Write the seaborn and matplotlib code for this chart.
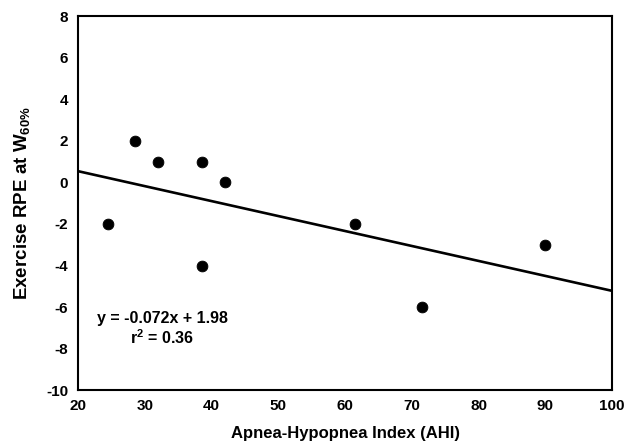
import numpy as np
import pandas as pd
import matplotlib
matplotlib.use("Agg")
import matplotlib.pyplot as plt
import seaborn as sns

# data
ahi = [24.5, 28.5, 32.0, 38.5, 38.5, 42.0, 61.5, 71.5, 90.0]
rpe = [-2, 2, 1, 1, -4, 0, -2, -6, -3]
slope = -0.072
intercept = 1.98
r2 = 0.36
x_ticks = [20, 30, 40, 50, 60, 70, 80, 90, 100]
y_ticks = [-10, -8, -6, -4, -2, 0, 2, 4, 6, 8]

sns.set_theme(style="white")
plt.rcParams["font.family"] = ["Liberation Sans", "DejaVu Sans"]
plt.rcParams["font.weight"] = "bold"
plt.rcParams["text.color"] = "black"
plt.rcParams["axes.unicode_minus"] = False
plt.rcParams["mathtext.fontset"] = "custom"
plt.rcParams["mathtext.bf"] = "Liberation Sans:bold"
plt.rcParams["mathtext.rm"] = "Liberation Sans:bold"
plt.rcParams["mathtext.default"] = "bf"

df = pd.DataFrame({"AHI": ahi, "RPE": rpe})
fit_x = np.array([x_ticks[0], x_ticks[-1]], dtype=float)
fit = pd.DataFrame({"AHI": fit_x, "RPE": slope * fit_x + intercept})

fig = plt.figure(figsize=(6.24, 4.48), dpi=100)
ax = fig.add_axes([0.125, 0.129, 0.856, 0.835])

sns.lineplot(data=fit, x="AHI", y="RPE", ax=ax, color="black", linewidth=1.9)
sns.scatterplot(data=df, x="AHI", y="RPE", ax=ax, color="black", s=60,
                edgecolor="black", zorder=3)

ax.set_xlim(x_ticks[0], x_ticks[-1])
ax.set_ylim(y_ticks[0], y_ticks[-1])
ax.set_xticks(x_ticks)
ax.set_yticks(y_ticks)
ax.tick_params(axis="both", direction="in", length=4, width=1, color="black",
               labelsize=11, labelcolor="black")
ax.tick_params(axis="x", pad=6)
ax.tick_params(axis="y", pad=7)
for sp in ax.spines.values():
    sp.set_color("black")
    sp.set_linewidth(1.5)

ax.set_xlabel("Apnea-Hypopnea Index (AHI)", fontsize=12, fontweight="bold",
              labelpad=10, color="black")
ax.set_ylabel(r"Exercise RPE at W$_{60\%}$", fontsize=13.5, fontweight="bold",
              labelpad=10, color="black")

ax.text(32.6, -6.55, f"y = {slope}x + {intercept}", ha="center", va="center",
        fontsize=11.5, fontweight="bold", color="black")
ax.text(32.6, -7.45, f"r$^2$ = {r2}", ha="center", va="center",
        fontsize=11.5, fontweight="bold", color="black")

fig.savefig("out.png", dpi=100)
